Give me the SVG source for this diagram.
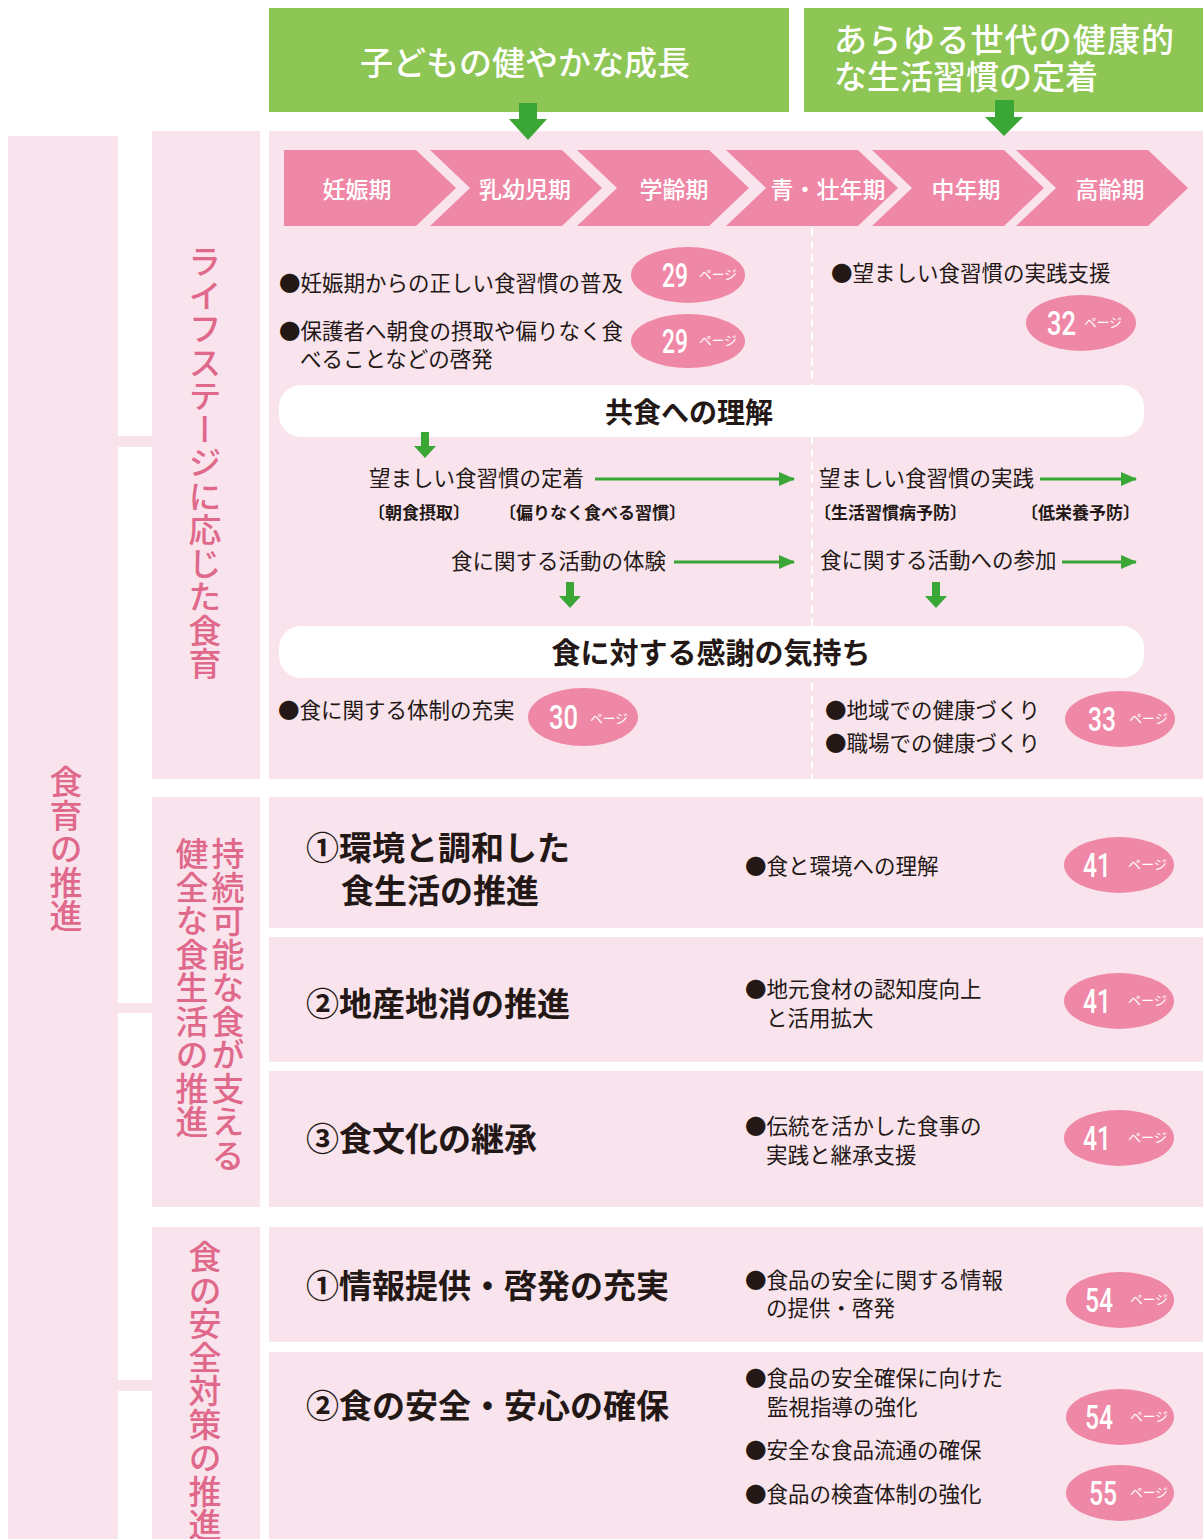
<svg xmlns="http://www.w3.org/2000/svg" width="1203" height="1539" viewBox="0 0 1203 1539">
<style>
.bg{fill:#f9e4ed}
.green{fill:#8dc655}
.darrow{fill:#3aa636}
.chev{fill:#ef87a6}
.wbox{fill:#ffffff}
.t{font-family:"Noto Sans CJK JP","Noto Sans",sans-serif;fill:#231815}
.b21{font-size:21.5px}
.brk{font-size:17px;font-weight:700}
.title{font-size:33px;font-weight:700}
.band{font-size:28px;font-weight:700}
.hdr{font-family:"Noto Sans CJK JP",sans-serif;font-size:33px;font-weight:500;fill:#ffffff}
.chevt{font-family:"Noto Sans CJK JP",sans-serif;font-size:23px;font-weight:500;fill:#ffffff;text-anchor:middle}
.vt{font-family:"Noto Sans CJK JP",sans-serif;font-size:33px;font-weight:500;fill:#e0698b;writing-mode:vertical-rl;letter-spacing:0.5px}
.badge{fill:#ef87a6}
.num{font-family:Roboto,"Liberation Sans",sans-serif;font-size:33px;font-weight:500;fill:#ffffff}
.pg{font-family:"Noto Sans CJK JP",sans-serif;font-size:13px;fill:#ffffff}
.flow{stroke:#3aa636;stroke-width:3;fill:none}
</style>
<defs>
<marker id="ah" markerUnits="userSpaceOnUse" markerWidth="16" markerHeight="14" refX="15" refY="7" orient="auto">
<path d="M0,0 L16,7 L0,14 Z" fill="#3aa636"/>
</marker>
</defs>

<g id="header-children">
<rect class="green" x="269" y="8" width="520" height="104"/>
<text class="hdr" x="525" y="75" text-anchor="middle">子どもの健やかな成長</text>
</g>
<g id="header-all-generations">
<rect class="green" x="804" y="8" width="399" height="104"/>
<text class="hdr" x="834" y="52" textLength="340" lengthAdjust="spacing">あらゆる世代の健康的</text>
<text class="hdr" x="834" y="89">な生活習慣の定着</text>
</g>

<g id="node-shokuiku">
<rect class="bg" x="8" y="136" width="110" height="1403"/>
<text class="vt" x="66" y="765">食育の推進</text>
</g>

<g id="node-lifestage-label">
<rect class="bg" x="152" y="131" width="108" height="648"/>
<text class="vt" x="205" y="245">ライフステージに応じた食育</text>
</g>
<g id="node-sustain-label">
<rect class="bg" x="152" y="797" width="108" height="410"/>
<text class="vt" x="228" y="837">持続可能な食が支える</text>
<text class="vt" x="192" y="837">健全な食生活の推進</text>
</g>
<g id="node-safety-label">
<rect class="bg" x="152" y="1227" width="108" height="312"/>
<text class="vt" x="205" y="1240">食の安全対策の推進</text>
</g>

<g id="node-lifestage-panel">
<rect class="bg" x="269" y="131" width="934" height="648"/>
<line x1="812" y1="228" x2="812" y2="779" stroke="#ffffff" stroke-width="2" stroke-dasharray="8 5"/>
<path class="chev" d="M284,150 H416 L456,188 L416,226 H284 Z"/>
<path class="chev" d="M430,150 H562 L602,188 L562,226 H430 L470,188 Z"/>
<path class="chev" d="M577,150 H709 L749,188 L709,226 H577 L617,188 Z"/>
<path class="chev" d="M726,150 H858 L898,188 L858,226 H726 L766,188 Z"/>
<path class="chev" d="M872,150 H1004 L1044,188 L1004,226 H872 L912,188 Z"/>
<path class="chev" d="M1016,150 H1148 L1188,188 L1148,226 H1016 L1056,188 Z"/>
<text class="chevt" x="357" y="198">妊娠期</text>
<text class="chevt" x="525" y="198">乳幼児期</text>
<text class="chevt" x="674" y="198">学齢期</text>
<text class="chevt" x="828" y="198">青・壮年期</text>
<text class="chevt" x="966" y="198">中年期</text>
<text class="chevt" x="1110" y="198">高齢期</text>

<text class="t b21" x="279" y="291">●妊娠期からの正しい食習慣の普及</text>
<text class="t b21" x="279" y="339">●保護者へ朝食の摂取や偏りなく食</text>
<text class="t b21" x="300" y="367">べることなどの啓発</text>
<text class="t b21" x="831" y="281">●望ましい食習慣の実践支援</text>

<ellipse class="badge" cx="688" cy="275" rx="57" ry="28"/>
<text class="num" x="662" y="287" textLength="26" lengthAdjust="spacingAndGlyphs">29</text>
<text class="pg" x="699" y="279" textLength="38" lengthAdjust="spacingAndGlyphs">ページ</text>
<ellipse class="badge" cx="688" cy="341" rx="57" ry="27"/>
<text class="num" x="662" y="353" textLength="26" lengthAdjust="spacingAndGlyphs">29</text>
<text class="pg" x="699" y="345" textLength="38" lengthAdjust="spacingAndGlyphs">ページ</text>
<ellipse class="badge" cx="1081" cy="323" rx="55" ry="28"/>
<text class="num" x="1047" y="335" textLength="29" lengthAdjust="spacingAndGlyphs">32</text>
<text class="pg" x="1084" y="327" textLength="38" lengthAdjust="spacingAndGlyphs">ページ</text>

<rect class="wbox" x="279" y="385" width="865" height="52" rx="22"/>
<text class="t band" x="689" y="423" text-anchor="middle">共食への理解</text>

<text class="t b21" x="369" y="486">望ましい食習慣の定着</text>
<text class="t brk" x="368" y="519">〔朝食摂取〕</text>
<text class="t brk" x="499" y="519">〔偏りなく食べる習慣〕</text>
<text class="t b21" x="819" y="486">望ましい食習慣の実践</text>
<text class="t brk" x="814" y="519">〔生活習慣病予防〕</text>
<text class="t brk" x="1021" y="519">〔低栄養予防〕</text>
<text class="t b21" x="451" y="569">食に関する活動の体験</text>
<text class="t b21" x="820" y="568">食に関する活動への参加</text>

<rect class="wbox" x="279" y="626" width="865" height="52" rx="22"/>
<text class="t band" x="711" y="664" text-anchor="middle" style="font-size:29px">食に対する感謝の気持ち</text>

<text class="t b21" x="278" y="718">●食に関する体制の充実</text>
<text class="t b21" x="825" y="718">●地域での健康づくり</text>
<text class="t b21" x="825" y="751">●職場での健康づくり</text>
<ellipse class="badge" cx="583" cy="717" rx="55" ry="29"/>
<text class="num" x="549" y="729" textLength="29" lengthAdjust="spacingAndGlyphs">30</text>
<text class="pg" x="590" y="723" textLength="38" lengthAdjust="spacingAndGlyphs">ページ</text>
<ellipse class="badge" cx="1120" cy="719" rx="55" ry="28"/>
<text class="num" x="1088" y="731" textLength="28" lengthAdjust="spacingAndGlyphs">33</text>
<text class="pg" x="1129" y="723" textLength="39" lengthAdjust="spacingAndGlyphs">ページ</text>
</g>

<g id="node-row-environment">
<rect class="bg" x="269" y="797" width="934" height="131"/>
<text class="t title" x="306" y="860">①環境と調和した</text>
<text class="t title" x="341" y="903">食生活の推進</text>
<text class="t b21" x="745" y="874">●食と環境への理解</text>
<ellipse class="badge" cx="1119" cy="865" rx="55" ry="28"/>
<text class="num" x="1083" y="877" textLength="28" lengthAdjust="spacingAndGlyphs">41</text>
<text class="pg" x="1128" y="869" textLength="39" lengthAdjust="spacingAndGlyphs">ページ</text>
</g>
<g id="node-row-local">
<rect class="bg" x="269" y="937" width="934" height="125"/>
<text class="t title" x="306" y="1016">②地産地消の推進</text>
<text class="t b21" x="745" y="997">●地元食材の認知度向上</text>
<text class="t b21" x="766" y="1026">と活用拡大</text>
<ellipse class="badge" cx="1119" cy="1001" rx="55" ry="28"/>
<text class="num" x="1083" y="1013" textLength="28" lengthAdjust="spacingAndGlyphs">41</text>
<text class="pg" x="1128" y="1005" textLength="39" lengthAdjust="spacingAndGlyphs">ページ</text>
</g>
<g id="node-row-culture">
<rect class="bg" x="269" y="1071" width="934" height="136"/>
<text class="t title" x="306" y="1151">③食文化の継承</text>
<text class="t b21" x="745" y="1134">●伝統を活かした食事の</text>
<text class="t b21" x="766" y="1163">実践と継承支援</text>
<ellipse class="badge" cx="1119" cy="1138" rx="55" ry="28"/>
<text class="num" x="1083" y="1150" textLength="28" lengthAdjust="spacingAndGlyphs">41</text>
<text class="pg" x="1128" y="1142" textLength="39" lengthAdjust="spacingAndGlyphs">ページ</text>
</g>
<g id="node-row-info">
<rect class="bg" x="269" y="1227" width="934" height="115"/>
<text class="t title" x="306" y="1298">①情報提供・啓発の充実</text>
<text class="t b21" x="745" y="1288">●食品の安全に関する情報</text>
<text class="t b21" x="766" y="1316">の提供・啓発</text>
<ellipse class="badge" cx="1120" cy="1300" rx="54" ry="28"/>
<text class="num" x="1085" y="1312" textLength="28" lengthAdjust="spacingAndGlyphs">54</text>
<text class="pg" x="1130" y="1304" textLength="38" lengthAdjust="spacingAndGlyphs">ページ</text>
</g>
<g id="node-row-safety">
<rect class="bg" x="269" y="1352" width="934" height="187"/>
<text class="t title" x="306" y="1418">②食の安全・安心の確保</text>
<text class="t b21" x="745" y="1386">●食品の安全確保に向けた</text>
<text class="t b21" x="767" y="1415">監視指導の強化</text>
<text class="t b21" x="745" y="1458">●安全な食品流通の確保</text>
<text class="t b21" x="745" y="1502">●食品の検査体制の強化</text>
<ellipse class="badge" cx="1120" cy="1417" rx="54" ry="28"/>
<text class="num" x="1085" y="1429" textLength="28" lengthAdjust="spacingAndGlyphs">54</text>
<text class="pg" x="1130" y="1421" textLength="38" lengthAdjust="spacingAndGlyphs">ページ</text>
<ellipse class="badge" cx="1120" cy="1493" rx="54" ry="28"/>
<text class="num" x="1089" y="1505" textLength="28" lengthAdjust="spacingAndGlyphs">55</text>
<text class="pg" x="1130" y="1497" textLength="38" lengthAdjust="spacingAndGlyphs">ページ</text>
</g>

<g id="connectors">
<rect class="bg" x="118" y="436" width="34" height="11"/>
<rect class="bg" x="118" y="1003" width="34" height="10"/>
<rect class="bg" x="118" y="1380" width="34" height="11"/>
<path class="darrow" d="M519,103 H537 V119 H547 L528,140 L509,119 H519 Z"/>
<path class="darrow" d="M995,100 H1014 V117 H1023 L1004,136 L985,117 H995 Z"/>
<path class="darrow" d="M421,432 H429 V446 H436 L425,458 L414,446 H421 Z"/>
<path class="darrow" d="M566,582 H574 V596 H581 L570,608 L559,596 H566 Z"/>
<path class="darrow" d="M932,582 H940 V596 H947 L936,608 L925,596 H932 Z"/>
<line class="flow" x1="595" y1="479" x2="794" y2="479" marker-end="url(#ah)"/>
<line class="flow" x1="1040" y1="479" x2="1136" y2="479" marker-end="url(#ah)"/>
<line class="flow" x1="674" y1="562" x2="794" y2="562" marker-end="url(#ah)"/>
<line class="flow" x1="1062" y1="562" x2="1136" y2="562" marker-end="url(#ah)"/>
</g>
</svg>
